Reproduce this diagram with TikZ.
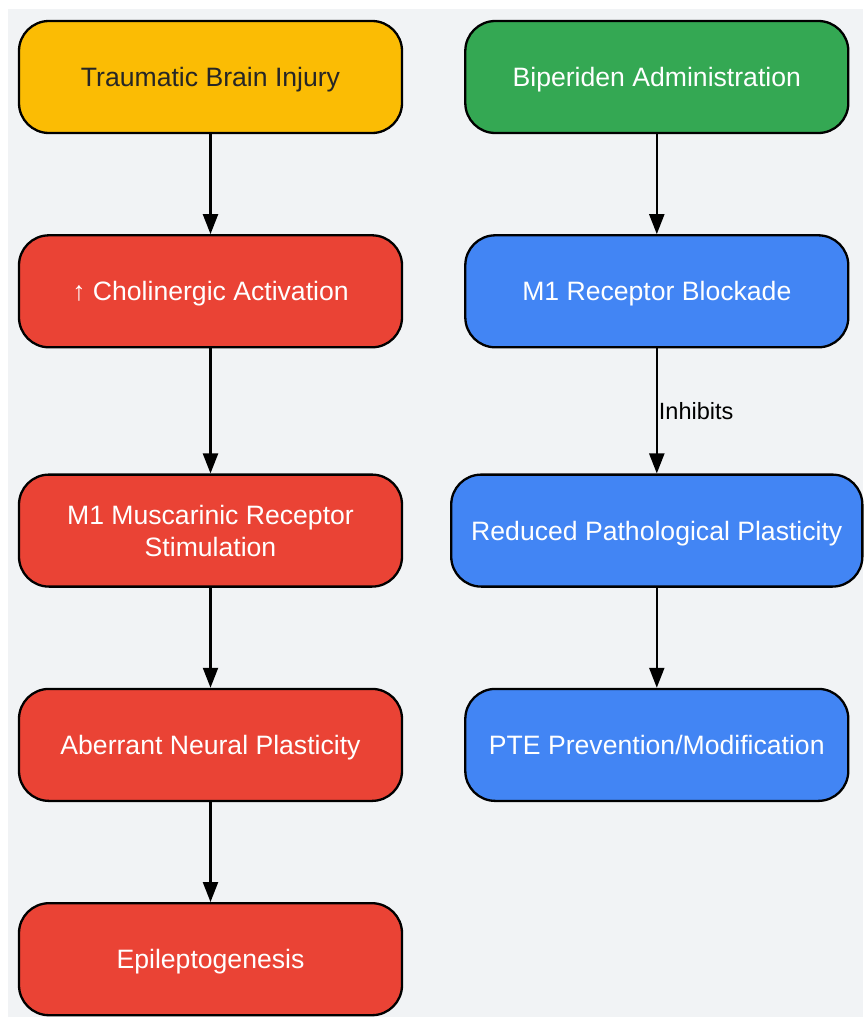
\documentclass[tikz,border=0pt]{standalone}
\usepackage{fontspec}
\setmainfont{Liberation Sans}
\usepackage{tikz}
\usetikzlibrary{arrows.meta,%
                shapes,positioning}
\definecolor{injury}{HTML}{FBBC04}
\definecolor{drug}{HTML}{34A853}
\definecolor{harm}{HTML}{EA4335}
\definecolor{relief}{HTML}{4285F4}
\definecolor{canvas}{HTML}{F1F3F5}

\begin{document}
\begin{tikzpicture}[node distance   = 100pt]
  \useasboundingbox (0pt,0pt) rectangle (863pt,-1017pt);
  \fill[canvas] (8pt,-9pt) rectangle (863pt,-1017pt);
  \tikzset{BoxStyle/.style   = {shape          = rectangle,
                                rounded corners = 30pt,
                                draw           = black,
                                line width     = 2.3pt,
                                text           = white,
                                align          = center,
                                text depth     = 0pt,
                                inner xsep     = 20pt,
                                minimum width  = 383pt,
                                minimum height = 112pt,
                                font           = \fontsize{26.6}{32}\selectfont}}
  \tikzset{EdgeStyle/.style  = {line width     = 2.2pt,
                                -{Triangle[width=15pt,length=20pt]}}}
  \tikzset{LabelStyle/.style = {right,
                                inner sep      = 1pt,
                                text           = black,
                                font           = \fontsize{23.5}{28}\selectfont}}
     % injury pathway
     \node[BoxStyle,fill=injury,text=black!85](TBI) at (210.5pt,-77pt){Traumatic Brain Injury};
     \node[BoxStyle,fill=harm,below=of TBI](Chol){↑ Cholinergic Activation};
     \node[BoxStyle,fill=harm,below=125pt of Chol](Musc){M1 Muscarinic Receptor\\Stimulation};
     \node[BoxStyle,fill=harm,below=of Musc](Aber){Aberrant Neural Plasticity};
     \node[BoxStyle,fill=harm,below=of Aber](Epi){Epileptogenesis};
     % treatment pathway
     \node[BoxStyle,fill=drug,right=61pt of TBI](Bip){Biperiden Administration};
     \node[BoxStyle,fill=relief,below=of Bip](Block){M1 Receptor Blockade};
     \node[BoxStyle,fill=relief,minimum width=410pt,below=125pt of Block](Red){Reduced Pathological Plasticity};
     \node[BoxStyle,fill=relief,below=of Red](PTE){PTE Prevention/Modification};
     \draw[EdgeStyle](TBI) -- (Chol);
     \draw[EdgeStyle](Chol) -- (Musc);
     \draw[EdgeStyle](Musc) -- (Aber);
     \draw[EdgeStyle](Aber) -- (Epi);
     \draw[EdgeStyle](Bip) -- (Block);
     \draw[EdgeStyle](Block) -- node[LabelStyle]{Inhibits} (Red);
     \draw[EdgeStyle](Red) -- (PTE);
  \end{tikzpicture}
\end{document}
